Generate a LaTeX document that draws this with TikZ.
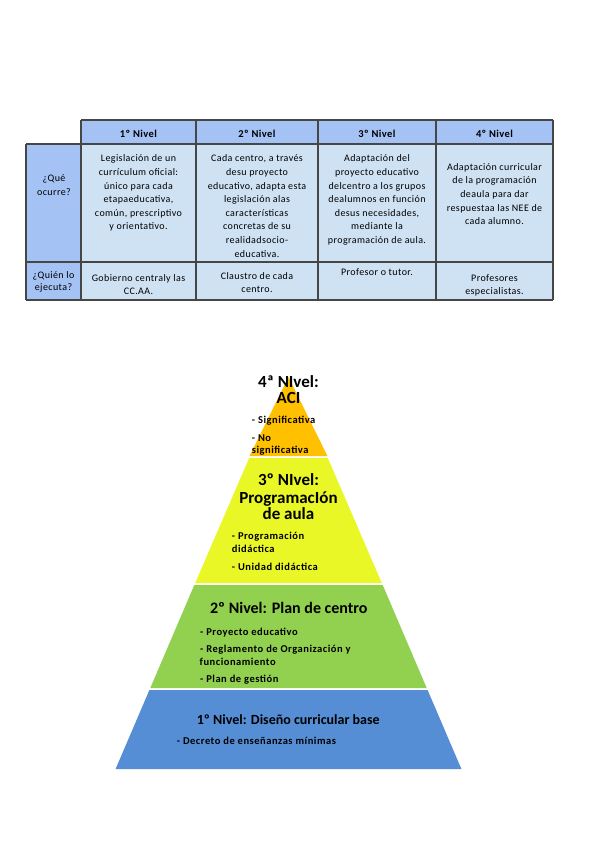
\documentclass[tikz,border=0pt]{standalone}
\usepackage{fontspec}
\setmainfont{Carlito}
\newfontfamily\tabf[LetterSpace=4]{Carlito}
\newfontfamily\bulf[LetterSpace=5]{Carlito}
\definecolor{hdrblue}{RGB}{164,194,244}
\definecolor{cellblue}{RGB}{207,226,243}
\definecolor{gridgray}{RGB}{70,70,70}
\definecolor{pyorange}{RGB}{255,192,0}
\definecolor{pyyellow}{RGB}{234,247,38}
\definecolor{pygreen}{RGB}{146,208,80}
\definecolor{pyblue}{RGB}{85,142,213}
\begin{document}
\begin{tikzpicture}[x=1pt,y=-1pt,
  gridline/.style={draw=gridgray,line width=1.3pt},
  tcell/.style={align=center,inner sep=0pt,anchor=north,font=\tabf\fontsize{10}{13.6}\selectfont},
  tlast/.style={align=center,inner sep=0pt,anchor=north,font=\tabf\fontsize{10}{12.5}\selectfont},
  thead/.style={inner sep=0pt,anchor=base,font=\tabf\bfseries\fontsize{10.5}{12}\selectfont},
  ptitle/.style={align=center,inner sep=0pt,anchor=north,font=\bfseries\fontsize{17}{16}\selectfont},
  pbul/.style={inner sep=0pt,anchor=base west,font=\bulf\bfseries\fontsize{10.5}{12}\selectfont}]
\useasboundingbox (0,0) rectangle (600,848);
\fill[white] (0,0) rectangle (600,848);
% ---------------- table ----------------
\fill[hdrblue] (81,120) rectangle (553,144);
\fill[hdrblue] (26,144) rectangle (81,300);
\fill[cellblue] (81,144) rectangle (553,300);
\draw[gridline] (81,120) -- (553,120);
\draw[gridline] (26,144) -- (553,144);
\draw[gridline] (26,262) -- (553,262);
\draw[gridline] (26,300) -- (553,300);
\draw[gridline] (26,144) -- (26,300);
\foreach \xx in {81,196,318,436,553} {\draw[gridline] (\xx,120) -- (\xx,300);}
% headers
\node[thead] (h1) at (138.5,137.7) {1º Nivel};
\node[thead] (h2) at (257,137.7) {2º Nivel};
\node[thead] (h3) at (377,137.7) {3º Nivel};
\node[thead] (h4) at (494.5,137.7) {4º Nivel};
% row labels
\node[tcell] (r1) at (54,172.2) {\strut¿Qué\\ocurre?};
\node[tlast] (r2) at (53.5,269.5) {\strut¿Quién lo\\ejecuta?};
% body
\node[tcell] (c11) at (138.5,152.2) {\strut Legislación de un\\currículum oficial:\\único para cada\\etapaeducativa,\\común, prescriptivo\\y orientativo.};
\node[tcell] (c12) at (257,152.2) {\strut Cada centro, a través\\desu proyecto\\educativo, adapta esta\\legislación alas\\características\\concretas de su\\realidadsocio-\\educativa.};
\node[tcell] (c13) at (377,152.2) {\strut Adaptación del\\proyecto educativo\\delcentro a los grupos\\dealumnos en función\\desus necesidades,\\mediante la\\programación de aula.};
\node[tcell] (c14) at (494.5,160.5) {\strut Adaptación curricular\\de la programación\\deaula para dar\\respuestaa las NEE de\\cada alumno.};
\node[tlast] (c21) at (138.5,273) {\strut Gobierno centraly las\\CC.AA.};
\node[tlast] (c22) at (257,271) {\strut Claustro de cada\\centro.};
\node[tlast] (c23) at (377,266.5) {\strut Profesor o tutor.};
\node[tlast] (c24) at (494.5,273) {\strut Profesores\\especialistas.};
% ---------------- pyramid ----------------
\fill[pyorange] (288.5,377) -- (327.4,456) -- (249.6,456) -- cycle;
\fill[pyyellow] (249.2,458) -- (327.8,458) -- (381.8,583) -- (195.2,583) -- cycle;
\fill[pygreen] (194.3,585) -- (382.7,585) -- (426.7,688) -- (150.3,688) -- cycle;
\fill[pyblue] (149.4,690) -- (427.6,690) -- (461.4,769) -- (115.6,769) -- cycle;
% level 4
\node[ptitle] (t4) at (288.5,375.5) {\strut 4ª NIvel:\\ACI};
\node[pbul] (b41) at (251.7,423) {- Significativa};
\node[pbul] (b42) at (251.7,441) {- No};
\node[pbul] (b43) at (251.7,453.5) {significativa};
% level 3
\node[ptitle] (t3) at (288.5,473.8) {\strut 3º NIvel:\\ProgramacIón\\de aula};
\node[pbul] (b31) at (231.7,539) {- Programación};
\node[pbul] (b32) at (231.7,552) {didáctica};
\node[pbul] (b33) at (231.7,570) {- Unidad didáctica};
% level 2
\node[inner sep=0pt,anchor=base,font=\bfseries\fontsize{16}{16}\selectfont] (t2) at (288.8,613) {2º Nivel: Plan de centro};
\node[pbul] (b21) at (200,635) {- Proyecto educativo};
\node[pbul] (b22) at (200,652.7) {- Reglamento de Organización y};
\node[pbul] (b23) at (199.5,665.5) {funcionamiento};
\node[pbul] (b24) at (200,682.7) {- Plan de gestión};
% level 1
\node[inner sep=0pt,anchor=base,font=\bfseries\fontsize{14}{14}\selectfont] (t1) at (288.3,724) {1º Nivel: Diseño curricular base};
\node[pbul] (b11) at (176.7,744) {- Decreto de enseñanzas mínimas};
\end{tikzpicture}
\end{document}
